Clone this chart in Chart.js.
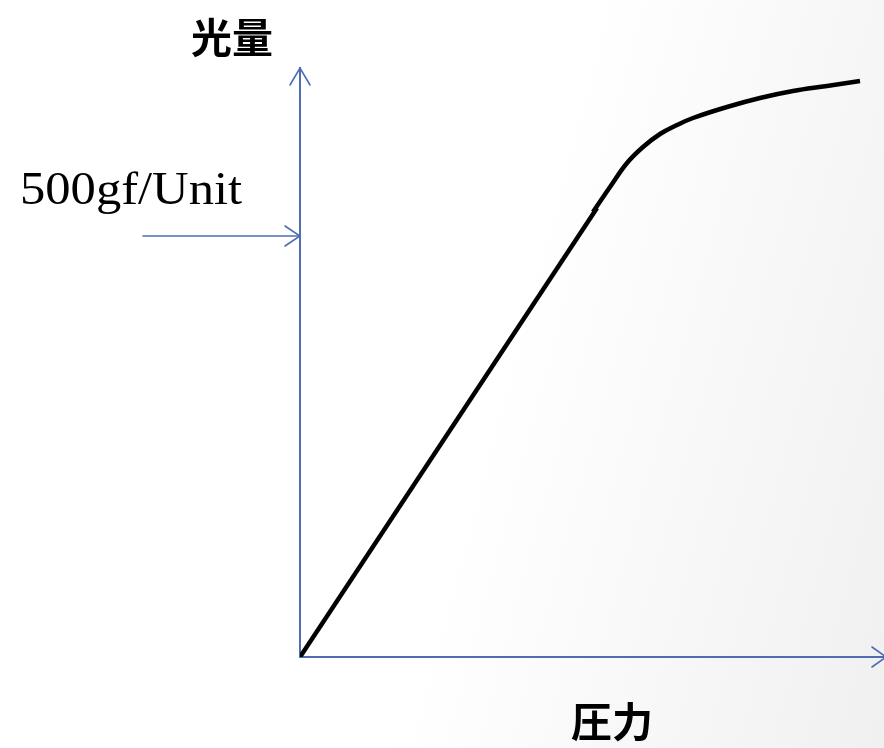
<!DOCTYPE html>
<html><head><meta charset="utf-8">
<script src="https://cdn.jsdelivr.net/npm/chart.js@4/dist/chart.umd.min.js"></script>
<style>
html,body{margin:0;padding:0;}
body{width:884px;height:748px;overflow:hidden;background:linear-gradient(105deg,#ffffff 55%,#f0f0f0 100%);}
#wrap{position:relative;width:884px;height:748px;}
</style></head>
<body><div id="wrap"><canvas id="c" width="884" height="748"></canvas></div>
<script>
// data (arbitrary units: pressure vs light amount)
const linearX = [0, 297];
const linearY = [0, 449];
const curveX = [293, 310, 327, 343, 360, 377, 393, 427, 460, 493, 527, 560];
const curveY = [445, 470, 494, 510, 523, 532, 539, 550, 559, 566, 571, 576];
const markerLevel = [421];
const yTitle = '光量';
const xTitle = '圧力';
const markerLabel = '500gf/Unit';

const axisColor = '#4f6db5';

const decor = {
  id: 'decor',
  afterDraw(chart) {
    const ctx = chart.ctx, a = chart.chartArea;
    const ys = chart.scales.y;
    ctx.save();
    ctx.strokeStyle = axisColor; ctx.lineWidth = 1.6; ctx.lineCap = 'round';
    ctx.beginPath();
    ctx.moveTo(a.left - 10, a.top + 17); ctx.lineTo(a.left, a.top); ctx.lineTo(a.left + 10, a.top + 17);
    ctx.stroke();
    ctx.beginPath();
    ctx.moveTo(a.right - 12, a.bottom - 10); ctx.lineTo(a.right + 2, a.bottom); ctx.lineTo(a.right - 12, a.bottom + 10);
    ctx.stroke();
    const my = ys.getPixelForValue(markerLevel[0]);
    ctx.beginPath();
    ctx.moveTo(143, my); ctx.lineTo(a.left, my); ctx.stroke();
    ctx.beginPath();
    ctx.moveTo(a.left - 15, my - 10); ctx.lineTo(a.left, my); ctx.lineTo(a.left - 15, my + 10);
    ctx.stroke();
    ctx.fillStyle = '#000';
    ctx.textBaseline = 'alphabetic';
    ctx.font = '700 41px "Noto Sans CJK JP"';
    ctx.textAlign = 'center';
    ctx.fillText(yTitle, 232, 53);
    ctx.fillText(xTitle, 612, 737);
    ctx.font = '46px "Liberation Serif"';
    ctx.textAlign = 'left';
    ctx.save();
    ctx.translate(20, 204);
    ctx.scale(1.1, 1);
    ctx.fillText(markerLabel, 0, 0);
    ctx.restore();
    ctx.restore();
  }
};

new Chart(document.getElementById('c'), {
  type: 'line',
  data: {
    datasets: [
      { data: linearX.map((x, i) => ({x, y: linearY[i]})), borderColor: '#000', borderWidth: 4.5, pointRadius: 0, tension: 0, borderCapStyle: 'butt' },
      { data: curveX.map((x, i) => ({x, y: curveY[i]})), borderColor: '#000', borderWidth: 4.5, pointRadius: 0, tension: 0.4, borderCapStyle: 'butt' }
    ]
  },
  options: {
    responsive: false, animation: false,
    layout: { padding: { left: 300, top: 68, right: 0, bottom: 91 } },
    plugins: { legend: { display: false }, tooltip: { enabled: false } },
    scales: {
      x: { type: 'linear', min: 0, max: 584, grid: { display: false, drawTicks: false }, ticks: { display: false },
           border: { display: true, color: axisColor, width: 2 } },
      y: { type: 'linear', min: 0, max: 589, grid: { display: false, drawTicks: false }, ticks: { display: false },
           border: { display: true, color: axisColor, width: 2 } }
    }
  },
  plugins: [decor]
});
</script></body></html>
